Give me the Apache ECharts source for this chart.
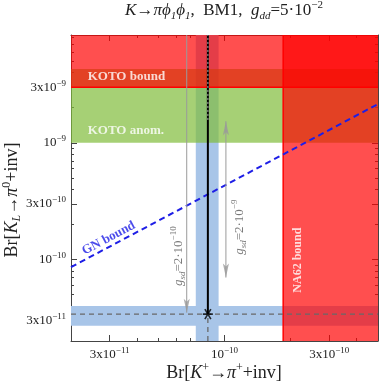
<!DOCTYPE html>
<html><head><meta charset="utf-8">
<script src="https://cdn.jsdelivr.net/npm/echarts@6/dist/echarts.min.js"></script>
<style>html,body{margin:0;padding:0;background:#fff}#c{width:382px;height:386px}</style>
</head><body><div id="c"></div>
<script>
// ---------- data ----------
const xRange = [2e-11, 5e-10];
const yRange = [2e-11, 8.4e-9];
const xTickValues = [3e-11, 1e-10, 3e-10];
const yTickValues = [3e-11, 1e-10, 3e-10, 1e-9, 3e-9];
const smKplus = [7.4e-11, 8.4e-11, 9.4e-11];   // lo, central, hi
const smKL = [2.7e-11, 3.4e-11, 4.0e-11];      // lo, central, hi
const kotoBound = 3.0e-9;
const kotoAnomaly = [1.0e-9, 4.3e-9];
const na62Bound = 1.85e-10;
const gnRatio = 4.3;
const modelDottedFrom = 1.57e-9;
const arrowLow = [6.73e-11, 8.4e-9, 3.5e-11];   // x, start, tip
const arrowHigh = [1.015e-10, 1.53e-9, 7.0e-11]; // x, upper tip, lower tip
const annotations = [
  {key: 'kotoB', text: 'KOTO bound', x: 2.37e-11, y: 3.66e-9},
  {key: 'kotoA', text: 'KOTO anom.', x: 2.37e-11, y: 1.26e-9},
  {key: 'na62', text: 'NA62 bound', x: 2.15e-10, y: 9.86e-11},
  {key: 'gn', text: 'GN bound', x: 2.97e-11, y: 1.52e-10},
  {key: 'g10', text: '2·10|−10', x: 6.15e-11, y: 1.067e-10},
  {key: 'g9', text: '2·10|−9', x: 1.167e-10, y: 1.89e-10}
];

// ---------- helpers ----------
const L = v => Math.log10(v);
const FONT = 'Liberation Serif';
function minorTicks(range, majors) {
  const out = [];
  for (let e = Math.floor(L(range[0])); e <= Math.ceil(L(range[1])); e++) {
    for (let m = 1; m <= 9; m++) {
      const v = m * Math.pow(10, e);
      if (v > range[0] * 1.0001 && v < range[1] * 0.9999 && !majors.some(t => Math.abs(t / v - 1) < 1e-6)) out.push(L(v));
    }
  }
  return out;
}
function tickLabel(v) {
  const e = Math.floor(v + 1e-9);
  const m = Math.round(Math.pow(10, v - e));
  return (m === 1 ? '{b|10}' : '{b|' + m + 'x10}') + '{p|−' + (-e) + '}';
}
const tickRich = {
  b: {fontFamily: FONT, fontSize: 13, lineHeight: 17, color: '#222'},
  p: {fontFamily: FONT, fontSize: 9, lineHeight: 9, verticalAlign: 'top', color: '#222'}
};
const axisCol = '#444';
const xMaj = xTickValues.map(L), yMaj = yTickValues.map(L);
const xMin = minorTicks(xRange, xTickValues), yMin = minorTicks(yRange, yTickValues);

function mkAxis(dim, pos, ticks, len, withLine, withLabel) {
  const r = dim === 'x' ? xRange : yRange;
  const a = {
    type: 'value', position: pos, min: L(r[0]), max: L(r[1]),
    axisLine: {show: withLine, onZero: false, lineStyle: {color: axisCol, width: 1}},
    axisTick: {show: true, inside: true, length: len, customValues: ticks, lineStyle: {color: axisCol, width: 1}},
    axisLabel: {show: withLabel},
    splitLine: {show: false}
  };
  if (withLabel) {
    a.axisLabel = {show: true, customValues: ticks, formatter: tickLabel, rich: tickRich, margin: 5};
  }
  return a;
}

// ---------- regions ----------
const regions = [
  {kind: 'sm', x: xRange, y: [smKL[0], smKL[2]]},
  {kind: 'sm', x: [smKplus[0], smKplus[2]], y: yRange},
  {kind: 'anom', x: xRange, y: kotoAnomaly},
  {kind: 'excl', x: xRange, y: [kotoBound, yRange[1]]},
  {kind: 'excl', x: [na62Bound, xRange[1]], y: yRange}
];
const regionStyle = {
  sm: {fill: '#a8c5e8'},
  anom: {fill: 'rgba(128,188,58,0.7)'},
  excl: {fill: 'rgba(255,0,0,0.69)'}
};

function lineSeries(pts, style) {
  return {type: 'line', data: pts.map(p => [L(p[0]), L(p[1])]), symbol: 'none', silent: true,
    lineStyle: style, z: 5, animation: false, clip: true};
}

const series = [];
series.push({
  type: 'custom', silent: true, z: 1, clip: true,
  encode: {x: [0, 1], y: [2, 3]},
  data: regions.map(r => [L(r.x[0]), L(r.x[1]), L(r.y[0]), L(r.y[1])]),
  renderItem(params, api) {
    const p1 = api.coord([api.value(0), api.value(2)]);
    const p2 = api.coord([api.value(1), api.value(3)]);
    const kind = regions[params.dataIndex].kind;
    return {type: 'rect', shape: {x: Math.min(p1[0], p2[0]), y: Math.min(p1[1], p2[1]),
      width: Math.abs(p2[0] - p1[0]), height: Math.abs(p2[1] - p1[1])}, style: regionStyle[kind]};
  }
});
// bound edges
series.push(lineSeries([[xRange[0], kotoBound], [xRange[1], kotoBound]], {color: '#ff0000', width: 1.5}));
series.push(lineSeries([[na62Bound, yRange[0]], [na62Bound, yRange[1]]], {color: '#ff0000', width: 1.5}));
// SM dashed cross-hairs
series.push(lineSeries([[xRange[0], smKL[1]], [xRange[1], smKL[1]]], {color: '#686868', width: 1.3, type: [5, 4]}));
series.push(lineSeries([[smKplus[1], yRange[0]], [smKplus[1], smKL[1]]], {color: '#686868', width: 1.3, type: [5, 4]}));
// GN bound
series.push(lineSeries([[xRange[0], gnRatio * xRange[0]], [xRange[1], gnRatio * xRange[1]]], {color: '#1e1ee6', width: 2, type: [6, 4]}));
// model curve
series.push(lineSeries([[smKplus[1], smKL[1]], [smKplus[1], yRange[1]]], {color: '#000', width: 2}));
series.push(lineSeries([[smKplus[1], modelDottedFrom], [smKplus[1], yRange[1]]], {color: '#9a9a9a', width: 1.1, type: [2, 2]}));
// arrows
series.push(lineSeries([[arrowLow[0], arrowLow[1]], [arrowLow[0], arrowLow[2]]], {color: '#9a9a9a', width: 1}));
series.push(lineSeries([[arrowHigh[0], arrowHigh[1]], [arrowHigh[0], arrowHigh[2]]], {color: '#9a9a9a', width: 1}));
const upHead = 'path://M0,0 L4,14 L0,11 L-4,14 Z';
const downHead = 'path://M0,14 L4,0 L0,3 L-4,0 Z';
series.push({type: 'scatter', silent: true, z: 6, symbol: downHead, symbolSize: [6, 14], symbolOffset: [0, -7],
  itemStyle: {color: '#9a9a9a'}, data: [[L(arrowLow[0]), L(arrowLow[2])], [L(arrowHigh[0]), L(arrowHigh[2])]]});
series.push({type: 'scatter', silent: true, z: 6, symbol: upHead, symbolSize: [6, 14], symbolOffset: [0, 7],
  itemStyle: {color: '#9a9a9a'}, data: [[L(arrowHigh[0]), L(arrowHigh[1])]]});
// SM star
series.push({type: 'scatter', silent: true, z: 7,
  symbol: 'path://M-5,0 L5,0 M-3,-4.6 L3,4.6 M-3,4.6 L3,-4.6', symbolSize: 10,
  itemStyle: {color: 'rgba(0,0,0,0)', borderColor: '#000', borderWidth: 1.6},
  data: [[L(smKplus[1]), L(smKL[1])]]});

// annotations
const gFmt = t => {const s = t.split('|'); return '{gi|g}{gs|sd}{gn|=' + s[0] + '}{gp|' + s[1] + '}';};
const annStyle = {
  kotoB: {pos: 'right', rot: 0, fmt: t => '{w|' + t + '}'},
  kotoA: {pos: 'right', rot: 0, fmt: t => '{w|' + t + '}'},
  na62: {pos: 'inside', rot: 90, fmt: t => '{w2|' + t + '}'},
  gn: {pos: 'inside', rot: 28, fmt: t => '{bl|' + t + '}'},
  g10: {pos: 'inside', rot: 90, fmt: gFmt},
  g9: {pos: 'inside', rot: 90, fmt: gFmt}
};
const annRich = {
  w: {fontFamily: FONT, fontSize: 13, fontWeight: 'bold', color: '#fff', lineHeight: 16},
  w2: {fontFamily: FONT, fontSize: 12, fontWeight: 'bold', color: '#fff', lineHeight: 15},
  bl: {fontFamily: FONT, fontSize: 13, fontWeight: 'bold', color: '#1e1ee6', lineHeight: 16},
  gi: {fontFamily: FONT, fontSize: 13, fontStyle: 'italic', color: '#555', lineHeight: 18},
  gs: {fontFamily: FONT, fontSize: 9, fontStyle: 'italic', color: '#555', lineHeight: 9, verticalAlign: 'bottom'},
  gn: {fontFamily: FONT, fontSize: 13, color: '#555', lineHeight: 18},
  gp: {fontFamily: FONT, fontSize: 9, color: '#555', lineHeight: 9, verticalAlign: 'top'}
};
annotations.forEach(a => {
  const st = annStyle[a.key];
  series.push({type: 'scatter', silent: true, z: 8, symbolSize: 1, itemStyle: {color: 'rgba(0,0,0,0)'},
    data: [[L(a.x), L(a.y)]],
    label: {show: true, position: st.pos, distance: 0, rotate: st.rot, formatter: () => st.fmt(a.text), rich: annRich}});
});

const chart = echarts.init(document.getElementById('c'), null, {renderer: 'canvas'});
chart.setOption({
  animation: false,
  backgroundColor: '#fff',
  grid: {left: 71, top: 35, right: 4, bottom: 45},
  xAxis: [
    mkAxis('x', 'bottom', xMaj, 6, true, true),
    mkAxis('x', 'bottom', xMin, 3, false, false),
    mkAxis('x', 'top', xMaj, 6, true, false),
    mkAxis('x', 'top', xMin, 3, false, false)
  ],
  yAxis: [
    mkAxis('y', 'left', yMaj, 6, true, true),
    mkAxis('y', 'left', yMin, 3, false, false),
    mkAxis('y', 'right', yMaj, 6, true, false),
    mkAxis('y', 'right', yMin, 3, false, false)
  ],
  series: series,
  graphic: [
    {type: 'text', x: 224, y: 11, style: {
      text: '{i|K}{n|→}{i|πϕ}{b|1}{i|ϕ}{b|1}{n|,  BM1,  }{i|g}{b|dd}{n|=5·10}{p|−2}',
      align: 'center', verticalAlign: 'middle',
      rich: {
        n: {fontFamily: FONT, fontSize: 17, lineHeight: 22, fill: '#222'},
        i: {fontFamily: FONT, fontSize: 17, fontStyle: 'italic', lineHeight: 22, fill: '#222'},
        b: {fontFamily: FONT, fontSize: 11, fontStyle: 'italic', lineHeight: 11, verticalAlign: 'bottom', fill: '#222'},
        p: {fontFamily: FONT, fontSize: 11, lineHeight: 11, verticalAlign: 'top', fill: '#222'}
      }}},
    {type: 'text', x: 224, y: 373, style: {
      text: '{n|Br[}{i|K}{p|+}{n|→}{i|π}{p|+}{n|+inv]}',
      align: 'center', verticalAlign: 'middle',
      rich: {
        n: {fontFamily: FONT, fontSize: 18, lineHeight: 22, fill: '#222'},
        i: {fontFamily: FONT, fontSize: 18, fontStyle: 'italic', lineHeight: 22, fill: '#222'},
        p: {fontFamily: FONT, fontSize: 12, lineHeight: 12, verticalAlign: 'top', fill: '#222'}
      }}},
    {type: 'text', x: 12, y: 200, rotation: Math.PI / 2, style: {
      text: '{n|Br[}{i|K}{b|L}{n|→}{i|π}{p|0}{n|+inv]}',
      align: 'center', verticalAlign: 'middle',
      rich: {
        n: {fontFamily: FONT, fontSize: 18, lineHeight: 22, fill: '#222'},
        i: {fontFamily: FONT, fontSize: 18, fontStyle: 'italic', lineHeight: 22, fill: '#222'},
        b: {fontFamily: FONT, fontSize: 12, fontStyle: 'italic', lineHeight: 12, verticalAlign: 'bottom', fill: '#222'},
        p: {fontFamily: FONT, fontSize: 12, lineHeight: 12, verticalAlign: 'top', fill: '#222'}
      }}}
  ]
});
</script></body></html>
